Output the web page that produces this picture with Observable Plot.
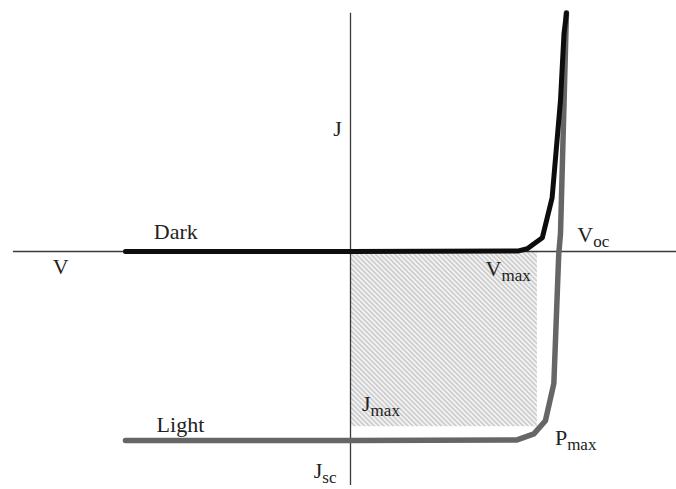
<!DOCTYPE html>
<html>
<head>
<meta charset="utf-8">
<script src="https://cdn.jsdelivr.net/npm/d3@7"></script>
<script src="https://cdn.jsdelivr.net/npm/@observablehq/plot@0.6"></script>
<style>
  html, body { margin: 0; padding: 0; background: #fff; }
  #chart svg { display: block; }
</style>
</head>
<body>
<div id="chart"></div>
<script>
// Solar cell J–V characteristic, in the dark and under illumination.
// V in volts, J in mA/cm².

// Dark curve (diode, passes through the origin)
const darkV = [-0.643, 0.0, 0.48, 0.505, 0.548, 0.576, 0.600, 0.610, 0.617];
const darkJ = [0.0, 0.0, 0.1, 0.45, 2.28, 8.94, 25.2, 36.3, 39.7];

// Light curve (shifted down by the short-circuit current)
const lightV = [-0.643, 0.0, 0.476, 0.524, 0.557, 0.581, 0.595, 0.600, 0.617];
const lightJ = [-31.5, -31.5, -31.4, -30.4, -28.2, -22.0, -0.4, 3.0, 39.8];

// Maximum power point rectangle
const Vmax = 0.534;
const Jmax = -29.2;

// Axis extents
const axisV = [-0.963, 0.94];
const axisJ = [-39.0, 39.7];

// Labels: main letter, subscript, position
const labelMain = ["Dark", "Light", "V", "J", "V", "V", "J", "P", "J"];
const labelSub  = ["", "", "", "", "oc", "max", "max", "max", "sc"];
const labelV    = [-0.562, -0.554, -0.851, -0.049, 0.648, 0.386, 0.033, 0.584, -0.105];
const labelJ    = [2.1, -30.1, -3.67, 19.2, 1.55, -4.0, -26.5, -32.3, -37.8];

const dark = darkV.map((v, i) => ({V: v, J: darkJ[i]}));
const light = lightV.map((v, i) => ({V: v, J: lightJ[i]}));
const labels = labelMain.map((t, i) => ({t, sub: labelSub[i], V: labelV[i], J: labelJ[i]}));

const chart = Plot.plot({
  width: 676,
  height: 489,
  margin: 0,
  x: {domain: [-1, 326 / 350], axis: null},
  y: {domain: [-238 / 6, 251 / 6], axis: null},
  style: {background: "#fff"},
  marks: [
    Plot.rect([{x1: 0, x2: Vmax, y1: Jmax, y2: 0}], {
      x1: "x1", x2: "x2", y1: "y1", y2: "y2", fill: "url(#hatch)"
    }),
    Plot.ruleY([0], {x1: axisV[0], x2: axisV[1], stroke: "#3a3a3a", strokeWidth: 1.3}),
    Plot.ruleX([0], {y1: axisJ[0], y2: axisJ[1], stroke: "#3a3a3a", strokeWidth: 1.3}),
    Plot.line(light, {
      x: "V", y: "J", stroke: "#666", strokeWidth: 5.5,
      strokeLinejoin: "round", strokeLinecap: "round"
    }),
    Plot.line(dark, {
      x: "V", y: "J", stroke: "#0d0d0d", strokeWidth: 5,
      strokeLinejoin: "round", strokeLinecap: "round"
    }),
    Plot.text(labels, {
      x: "V", y: "J", text: "t", textAnchor: "start", lineAnchor: "bottom",
      fontFamily: "Liberation Serif", fontSize: 22, fill: "#222",
      className: "jv-label"
    })
  ]
});

// Hatch pattern for the maximum power rectangle
const svg = d3.select(chart);
const pat = svg.insert("defs", ":first-child")
  .append("pattern")
  .attr("id", "hatch")
  .attr("patternUnits", "userSpaceOnUse")
  .attr("width", 3.4)
  .attr("height", 3.4)
  .attr("patternTransform", "rotate(-45)");
pat.append("rect").attr("width", 3.4).attr("height", 3.4).attr("fill", "#f3f3f3");
pat.append("rect").attr("width", 1.5).attr("height", 3.4).attr("fill", "#c9c9c9");

// Subscripts
svg.selectAll(".jv-label text").each(function(_, i) {
  const s = labels[i].sub;
  if (s) {
    d3.select(this).append("tspan")
      .attr("dy", 5)
      .attr("font-size", 17)
      .text(s);
  }
});

document.getElementById("chart").appendChild(chart);
</script>
</body>
</html>
